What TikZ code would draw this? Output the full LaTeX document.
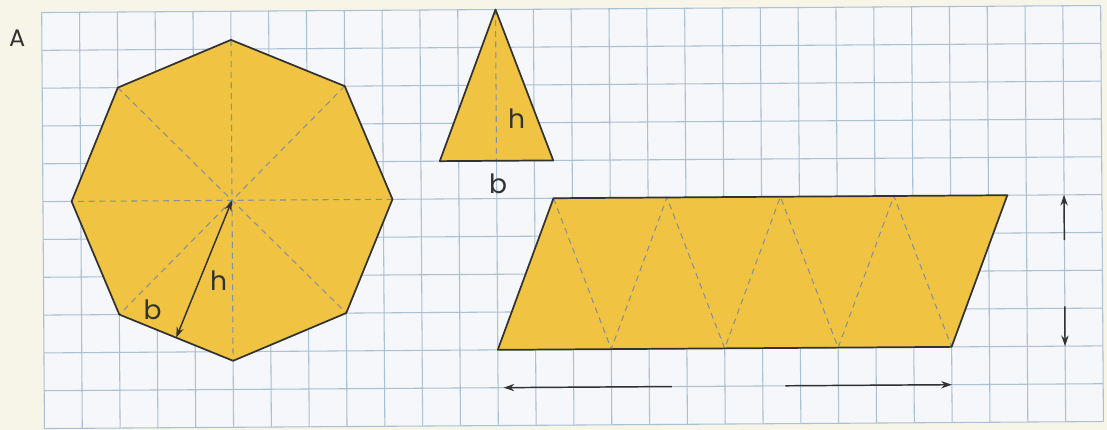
\documentclass[tikz,border=0pt]{standalone}
\usepackage{fontspec}
\setmainfont{Poppins}
\usetikzlibrary{arrows.meta,calc}
\definecolor{paper}{RGB}{247,245,232}
\definecolor{gridbg}{RGB}{245,247,250}
\definecolor{gridline}{RGB}{172,192,212}
\definecolor{fillY}{RGB}{240,196,66}
\definecolor{edge}{RGB}{50,50,50}
\definecolor{dashc}{RGB}{135,145,150}
\begin{document}
\begin{tikzpicture}[x=1cm,y=1cm,
  figfill/.style={fill=fillY},
  figedge/.style={draw=edge, line width=1.3pt, line join=round},
  dashline/.style={draw=dashc, line width=0.8pt, dash pattern=on 4.5pt off 3.5pt},
  arr/.style={draw=edge, line width=1.1pt, -{Stealth[length=8pt,width=5.5pt]}},
  dblarr/.style={draw=edge, line width=1.1pt, {Stealth[length=8pt,width=5.5pt]}-{Stealth[length=8pt,width=5.5pt]}},
  lbl/.style={font=\fontsize{20}{24}\selectfont, text=edge, inner sep=0pt},
  gridl/.style={draw=gridline, line width=0.8pt}]
\useasboundingbox[fill=paper] (-1.138,-11.13) rectangle (28.13,0.238);
\begin{scope}[rotate around={0.38:(14,-5.5)}]
  % grid paper
  \fill[gridbg] (0,-11) rectangle (28,0);
  \draw[gridl] (0,-11) grid (28,0);
  \node[lbl, font=\fontsize{18}{22}\selectfont] (labA) at (-0.65,-0.68) {A};

  % octagon
  \coordinate (O) at (5,-5);
  \foreach \i in {0,...,7} { \path (O) ++(\i*45:4.243) coordinate (V\i); }
  \fill[figfill] (V0)--(V1)--(V2)--(V3)--(V4)--(V5)--(V6)--(V7)--cycle;
  \draw[dashline] (V0)--(V4);
  \draw[dashline] (V1)--(V5);
  \draw[dashline] (V2)--(V6);
  \draw[dashline] (V3)--(V7);
  \draw[figedge] (V0)--(V1)--(V2)--(V3)--(V4)--(V5)--(V6)--(V7)--cycle;
  \coordinate (M) at ($(V5)!0.5!(V6)$);
  \draw[dblarr] (M)--(O);
  \node[lbl] (octh) at (4.63,-7.13) {h};
  \node[lbl] (octb) at (2.88,-7.88) {b};

  % triangle
  \coordinate (T1) at (12,0);
  \coordinate (T2) at (10.5,-4);
  \coordinate (T3) at (13.5,-4);
  \coordinate (Tb) at (12,-4);
  \fill[figfill] (T1)--(T2)--(T3)--cycle;
  \draw[dashline] (T1)--(Tb);
  \draw[figedge] (T1)--(T2)--(T3)--cycle;
  \node[lbl] (trih) at (12.54,-2.9) {h};
  \node[lbl] (trib) at (12.04,-4.6) {b};

  % parallelogram
  \coordinate (P1) at (12,-9);
  \coordinate (P2) at (24,-9);
  \coordinate (P3) at (25.5,-5);
  \coordinate (P4) at (13.5,-5);
  \coordinate (Z1) at (15,-9);
  \coordinate (Z2) at (16.5,-5);
  \coordinate (Z3) at (18,-9);
  \coordinate (Z4) at (19.5,-5);
  \coordinate (Z5) at (21,-9);
  \coordinate (Z6) at (22.5,-5);
  \fill[figfill] (P1)--(P2)--(P3)--(P4)--cycle;
  \draw[dashline] (P4)--(Z1)--(Z2)--(Z3)--(Z4)--(Z5)--(Z6)--(P2);
  \draw[figedge] (P1)--(P2)--(P3)--(P4)--cycle;

  % measurement arrows
  \coordinate (VA1) at (27,-6.2);
  \coordinate (VA2) at (27,-5);
  \coordinate (VB1) at (27,-7.95);
  \coordinate (VB2) at (27,-9);
  \draw[arr] (VA1)--(VA2);
  \draw[arr] (VB1)--(VB2);
  \coordinate (HA1) at (16.6,-10);
  \coordinate (HA2) at (12.15,-10);
  \coordinate (HB1) at (19.6,-10);
  \coordinate (HB2) at (24,-10);
  \draw[arr] (HA1)--(HA2);
  \draw[arr] (HB1)--(HB2);
\end{scope}
\end{tikzpicture}
\end{document}
